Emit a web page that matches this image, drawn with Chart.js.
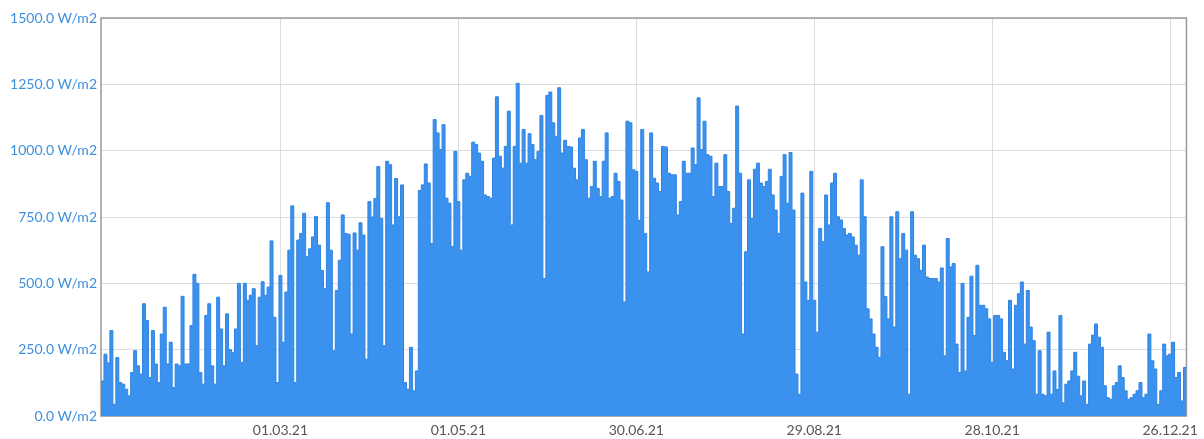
<!DOCTYPE html>
<html><head><meta charset="utf-8">
<script src="https://cdn.jsdelivr.net/npm/chart.js@4.4.1/dist/chart.umd.min.js"></script>
<style>html,body{margin:0;padding:0;background:#fff;}canvas{display:block;}</style>
</head><body>
<canvas id="c" width="1204" height="439"></canvas>
<script>
// Daily peak irradiance (W/m2), consecutive days from the left edge of the plot
const block1 = [132,233,200,322,44,220,126,120,101,76,164,246,189,158,423,360,145,322,196,126,309,410,196,278,107,196,189,451,196,196,341,534,500,164,120,379,423,189,120,448,328,189,385,250,240];
const block2 = [328,500,202,500,436,455,480,265,448,506,455,486,660,372,126,530,278,467,625,792,126,663,688,764,600,630,675,752,644,549,480,804,625,246,473,587,758,688,685,309,690,625,728,682,214,808];
const block3 = [750,820,940,744,265,960,947,720,895,751,871,126,101,259,95,170,850,871,950,878,650,1117,1067,1004,1098,821,802,638,997,808,625,890,915,903,1032,1023,991,960,833,827,821,972,1203,979,934,1016,1149];
const block4 = [720,1016,1254,953,1080,953,1064,1023,966,997,1133,518,1208,1221,1105,1054,1237,991,1039,1016,1014,934,890,1048,1080,966,821,865,960,858,827,960,1067,821,827,915,884,814,430,1111,1105,928,922,738,1080,688];
const block5 = [543,1067,896,878,846,1016,1014,915,909,909,758,808,960,915,915,1010,947,1199,1004,1111,985,979,827,953,865,865,985,846,726,783,1168,915,309,619,890,745,930,953,878,865,884,930,833,776,688,903,985];
const block6 = [802,993,776,158,82,840,505,436,922,436,316,707,657,833,720,878,915,751,739,707,682,688,675,644,606,890,751,404,366,309,259,221,638,450,366,751,335,770,593,688,625,82,770,606,593,549];
const block7 = [644,524,518,518,518,505,558,227,669,562,575,271,164,500,170,372,527,303,568,417,417,404,366,202,379,379,366,240,208,436,177,417,461,505,271,473,335,284,82,246,82,76,316,82,170,100];
const block8 = [379,50,120,132,170,240,150,76,132,44,271,305,347,297,259,114,69,63,114,126,189,145,95,63,69,82,95,126,69,82,309,208,177,44,95,271,227,233,278,145,164,57,183];

const yTickValues = [0,250,500,750,1000,1250,1500];
const xTickDays = [60.5,120.5,180.5,240.5,300.5,360.5];
const xTickLabels = ['01.03.21','01.05.21','30.06.21','29.08.21','28.10.21','26.12.21'];

const daily = [].concat(block1,block2,block3,block4,block5,block6,block7,block8);
const points = daily.map((v,i)=>({x:i,y:v}));
points.push({x:daily.length,y:daily[daily.length-1]});

const frame = {
  id:'frame',
  beforeDatasetsDraw(chart){
    const {ctx, chartArea:a} = chart;
    ctx.save();
    ctx.strokeStyle = '#999';
    ctx.lineWidth = 1.5;
    ctx.strokeRect(a.left, a.top, a.right-a.left, a.bottom-a.top);
    ctx.restore();
  }
};

new Chart(document.getElementById('c'), {
  type:'line',
  data:{datasets:[{
    data:points,
    stepped:true,
    fill:'origin',
    backgroundColor:'#3b91ee',
    borderColor:'#2f84e2',
    borderWidth:1,
    pointRadius:0,
    tension:0
  }]},
  options:{
    responsive:false,
    animation:false,
    devicePixelRatio:1,
    layout:{padding:{top:18,right:13,left:0,bottom:0}},
    plugins:{legend:{display:false},tooltip:{enabled:false}},
    scales:{
      x:{
        type:'linear', min:0, max:daily.length,
        afterBuildTicks:s=>{s.ticks = xTickDays.map(v=>({value:v}));},
        afterFit:s=>{s.height = 23;},
        ticks:{callback:(v,i)=>xTickLabels[i], autoSkip:false, maxRotation:0, color:'#555', font:{family:'Lato',size:14}, padding:6},
        grid:{color:'#dcdcdc', drawTicks:false},
        border:{display:false}
      },
      y:{
        min:0, max:1500,
        afterBuildTicks:s=>{s.ticks = yTickValues.map(v=>({value:v}));},
        afterFit:s=>{s.width = 101;},
        ticks:{callback:v=>v.toFixed(1)+' W/m2', color:'#3f8fdc', font:{family:'Lato',size:14}, padding:4},
        grid:{color:'#dcdcdc', drawTicks:false},
        border:{display:false}
      }
    }
  },
  plugins:[frame]
});
</script>
</body></html>
